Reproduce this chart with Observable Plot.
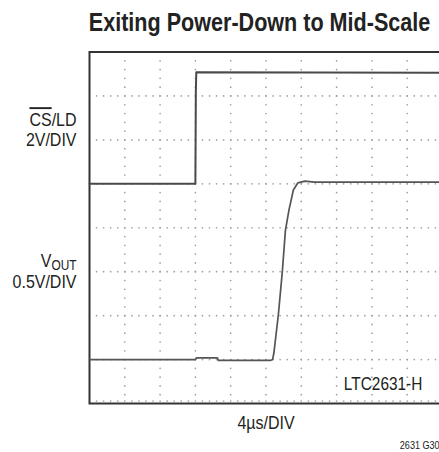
<!DOCTYPE html>
<html><head><meta charset="utf-8">
<script src="https://cdn.jsdelivr.net/npm/d3@7"></script>
<script src="https://cdn.jsdelivr.net/npm/@observablehq/plot@0.6"></script>
<style>
html,body{margin:0;padding:0;background:#fff;overflow:hidden;}
</style></head><body><div id="chart"></div>
<script>
// ---- data (time in µs, voltage in V) ----
const csTime = [0, 12.0, 12.05, 12.1, 40];
const csVolt = [0, 0, 4.2, 5.08, 5.05];
const voutTime = [0, 6, 12.0, 12.1, 14.5, 14.6, 20.5, 20.75, 20.9, 21.4, 21.85, 22.2, 22.6, 23.1, 23.6, 24.4, 25.5, 40];
const voutVolt = [0, 0, 0, 0.02, 0.02, -0.01, -0.01, 0.0, 0.08, 0.51, 1.0, 1.47, 1.70, 1.93, 2.01, 2.03, 2.02, 2.02];
const xTicks = [0, 4, 8, 12, 16, 20, 24, 28, 32, 36, 40];   // 4 µs/DIV
const yTicks = [0, 1, 2, 3, 4, 5, 6, 7, 8];                 // divisions
const minorPerDiv = 5;
const csOffsetDiv = 5, csVoltsPerDiv = 2;
const voutOffsetDiv = 1, voutVoltsPerDiv = 0.5;
const titleText = "Exiting Power-Down to Mid-Scale";
const xLabel = "4µs/DIV";
const partLabel = "LTC2631-H";
const figId = "2631 G30";

const FONT = '"Liberation Sans", Arial, sans-serif';

const cs = csTime.map((t, i) => ({t, d: csOffsetDiv + csVolt[i] / csVoltsPerDiv}));
const vout = voutTime.map((t, i) => ({t, d: voutOffsetDiv + voutVolt[i] / voutVoltsPerDiv}));

const xStep = (xTicks[1] - xTicks[0]) / minorPerDiv;
const yStep = (yTicks[1] - yTicks[0]) / minorPerDiv;
const xMin = xTicks[0], xMax = xTicks[xTicks.length - 1];
const yMin = yTicks[0], yMax = yTicks[yTicks.length - 1];
const xMinor = d3.range(0, (xMax - xMin) / xStep + 1).map(i => xMin + i * xStep);
const yMinor = d3.range(0, (yMax - yMin) / yStep + 1).map(i => yMin + i * yStep);
const gridDots = [];
for (const x of xTicks.slice(1, -1)) for (const y of yMinor.slice(1, -1)) gridDots.push({x, y});
for (const y of yTicks.slice(1, -1)) for (const x of xMinor.slice(1, -1)) gridDots.push({x, y});
const borderTicks = xMinor.slice(1, -1).map(x => ({x, y: yMin}));

const LBL = 18.8;
const chart = Plot.plot({
  width: 439,
  height: 452,
  marginTop: 51.5,
  marginLeft: 89,
  marginRight: -3,
  marginBottom: 49,
  style: {fontFamily: FONT, background: "#fff", maxWidth: "none", color: "#222"},
  x: {domain: [xMin, xMax], axis: null},
  y: {domain: [yMin, yMax], axis: null},
  marks: [
    Plot.dot(gridDots, {x: "x", y: "y", r: 0.85, fill: "#a0a0a0", stroke: null}),
    Plot.dot(borderTicks, {x: "x", y: "y", r: 0.85, dy: -2.5, fill: "#a0a0a0", stroke: null}),
    Plot.frame({stroke: "#333", strokeWidth: 2}),
    Plot.line(cs, {x: "t", y: "d", stroke: "#4a4a4a", strokeWidth: 2, curve: "linear"}),
    Plot.line(vout, {x: "t", y: "d", stroke: "#555", strokeWidth: 1.7, curve: "linear"}),
    // title
    Plot.text([titleText], {frameAnchor: "top-left", text: d => d, dx: -0.7, dy: -21.5, textAnchor: "start", lineAnchor: "bottom", fontSize: 26, fontWeight: "bold", fill: "#222"}),
    // channel labels
    Plot.text(["CS/LD"], {x: () => xMin, y: () => 6.327, text: d => d, dx: -13, textAnchor: "end", lineAnchor: "bottom", fontSize: LBL, fill: "#222"}),
    Plot.text(["2V/DIV"], {x: () => xMin, y: () => 5.85, text: d => d, dx: -13, textAnchor: "end", lineAnchor: "bottom", fontSize: LBL, fill: "#222"}),
    Plot.text(["VOUT"], {x: () => xMin, y: () => 3.118, text: d => d, dx: -13, textAnchor: "end", lineAnchor: "bottom", fontSize: LBL, fill: "#222"}),
    Plot.text(["0.5V/DIV"], {x: () => xMin, y: () => 2.624, text: d => d, dx: -13, textAnchor: "end", lineAnchor: "bottom", fontSize: LBL, fill: "#222"}),
    Plot.text([partLabel], {x: () => 28.82, y: () => 0.296, text: d => d, textAnchor: "start", lineAnchor: "bottom", fontSize: LBL, fill: "#222"}),
    Plot.text([xLabel], {x: () => 20, y: () => yMin, text: d => d, dy: 25.3, textAnchor: "middle", lineAnchor: "bottom", fontSize: LBL, fill: "#222"}),
    Plot.text([figId], {x: () => 35.16, y: () => yMin, text: d => d, dy: 45.3, textAnchor: "start", lineAnchor: "bottom", fontSize: 10.7, fill: "#222"})
  ]
});
document.getElementById("chart").appendChild(chart);

// condensed look: narrow each label horizontally about its anchor; overline on CS, subscript OUT
const narrow = {[titleText]: 0.83, [partLabel]: 0.82};
d3.select(chart).selectAll("text").each(function() {
  const el = d3.select(this);
  const txt = this.textContent;
  const s = narrow[txt] ?? 0.85;
  const tr = el.attr("transform") || "";
  el.attr("transform", tr + ` scale(${s},1)`);
  if (txt === "CS/LD") {
    el.text(null);
    el.append("tspan").style("text-decoration", "overline").text("CS");
    el.append("tspan").text("/LD");
  } else if (txt === "VOUT") {
    el.text(null);
    el.append("tspan").text("V");
    el.append("tspan").attr("font-size", 14).attr("dy", 3.3).text("OUT");
  }
});
</script></body></html>
